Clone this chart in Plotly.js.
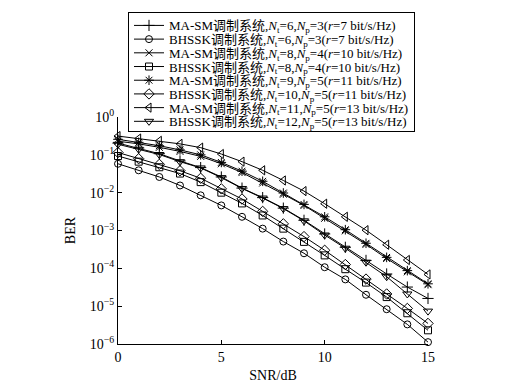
<!DOCTYPE html>
<html>
<head>
<meta charset="utf-8">
<script src="https://cdn.plot.ly/plotly-3.0.1.min.js"></script>
<style>
  html, body { margin: 0; padding: 0; background: #fff; }
  #plot { width: 506px; height: 386px; }
</style>
</head>
<body>
<div id="plot"></div>
<script>
// ---- data ----
var snr = [0,1,2,3,4,5,6,7,8,9,10,11,12,13,14,15];

var masm6  = [0.204,0.151,0.107,0.069,0.046,0.026,0.0132,0.0074,0.0039,0.00186,0.00081,0.00036,0.000162,7.1e-5,3.2e-5,1.6e-5];
var bhssk6 = [0.058,0.039,0.026,0.0155,0.0085,0.0046,0.0023,0.00112,0.00051,0.00025,0.000107,5.1e-5,2.0e-5,8.3e-6,3.3e-6,1.12e-6];
var masm8  = [0.229,0.195,0.158,0.123,0.091,0.058,0.034,0.018,0.0091,0.0046,0.0021,0.00098,0.00043,0.000182,8.1e-5,3.7e-5];
var bhssk8 = [0.093,0.066,0.047,0.032,0.019,0.010,0.0052,0.0025,0.00112,0.0005,0.00022,9.5e-5,4.2e-5,1.74e-5,6.5e-6,2.3e-6];
var masm9  = [0.257,0.214,0.174,0.135,0.100,0.063,0.037,0.020,0.0098,0.0049,0.0023,0.00105,0.00046,0.000195,8.7e-5,3.9e-5];
var bhssk10= [0.115,0.079,0.056,0.038,0.024,0.0126,0.0068,0.0032,0.0015,0.00069,0.0003,0.000126,5.2e-5,2.1e-5,8.7e-6,3.5e-6];
var masm11 = [0.313,0.269,0.234,0.195,0.155,0.105,0.066,0.039,0.021,0.011,0.0051,0.0023,0.00102,0.00042,0.000166,6.9e-5];
var bhssk12= [0.190,0.141,0.102,0.066,0.045,0.025,0.0129,0.0072,0.0038,0.0018,0.00076,0.00034,0.000145,6.0e-5,2.1e-5,7.4e-6];

var seriesNames = [
  "MA-SM调制系统,<i>N</i><sub>t</sub>=6,<i>N</i><sub>p</sub>=3(<i>r</i>=7 bit/s/Hz)",
  "BHSSK调制系统,<i>N</i><sub>t</sub>=6,<i>N</i><sub>p</sub>=3(<i>r</i>=7 bit/s/Hz)",
  "MA-SM调制系统,<i>N</i><sub>t</sub>=8,<i>N</i><sub>p</sub>=4(<i>r</i>=10 bit/s/Hz)",
  "BHSSK调制系统,<i>N</i><sub>t</sub>=8,<i>N</i><sub>p</sub>=4(<i>r</i>=10 bit/s/Hz)",
  "MA-SM调制系统,<i>N</i><sub>t</sub>=9,<i>N</i><sub>p</sub>=5(<i>r</i>=11 bit/s/Hz)",
  "BHSSK调制系统,<i>N</i><sub>t</sub>=10,<i>N</i><sub>p</sub>=5(<i>r</i>=11 bit/s/Hz)",
  "MA-SM调制系统,<i>N</i><sub>t</sub>=11,<i>N</i><sub>p</sub>=5(<i>r</i>=13 bit/s/Hz)",
  "BHSSK调制系统,<i>N</i><sub>t</sub>=12,<i>N</i><sub>p</sub>=5(<i>r</i>=13 bit/s/Hz)"
];
var seriesValues = [masm6, bhssk6, masm8, bhssk8, masm9, bhssk10, masm11, bhssk12];

var xTickVals = [0,5,10,15];
var xTickText = ["0","5","10","15"];
var yTickVals = [1e-6,1e-5,1e-4,1e-3,1e-2,1e-1,1];
var yTickText = ["10<sup>−6</sup>","10<sup>−5</sup>","10<sup>−4</sup>","10<sup>−3</sup>","10<sup>−2</sup>","10<sup>−1</sup>","10<sup>0</sup>"];

// ---- styles ----
var symbols = ["cross-thin-open","circle-open","x-thin-open","square-open","asterisk-open","diamond-open","triangle-left-open","triangle-down-open"];
var sizes   = [8,7,7,7,8,8,8,8];
var FONT = "Liberation Serif, 'Times New Roman', 'Noto Sans CJK SC', serif";

var data = seriesValues.map(function(v, i){
  return {
    x: snr, y: v, type: "scatter", mode: "lines+markers",
    name: seriesNames[i],
    line: {color: "#000", width: 1},
    marker: {symbol: symbols[i], size: sizes[i], color: "#000", line: {color: "#000", width: 1}},
    cliponaxis: false
  };
});

var layout = {
  width: 506, height: 386,
  margin: {l: 118, r: 78, t: 115, b: 42},
  paper_bgcolor: "#fff", plot_bgcolor: "#fff",
  font: {family: FONT, size: 14, color: "#000"},
  showlegend: true,
  legend: {
    x: 0.0323, y: 1.4629, xanchor: "left", yanchor: "top",
    bgcolor: "#fff", bordercolor: "#000", borderwidth: 1,
    font: {family: FONT, size: 13, color: "#000"},
    itemwidth: 30, tracegroupgap: 0
  },
  xaxis: {
    range: [0, 15], showgrid: false, zeroline: false,
    showline: true, linecolor: "#000", linewidth: 1, mirror: false,
    ticks: "inside", ticklen: 4, tickcolor: "#000",
    tickvals: xTickVals, ticktext: xTickText,
    tickfont: {family: FONT, size: 14},
    title: {text: "SNR/dB", font: {family: FONT, size: 14}, standoff: 6}
  },
  yaxis: {
    type: "log", range: [-6, 0], showgrid: false, zeroline: false,
    showline: true, linecolor: "#000", linewidth: 1, mirror: false,
    ticks: "inside", ticklen: 4, tickcolor: "#000",
    tickvals: yTickVals, ticktext: yTickText,
    tickfont: {family: FONT, size: 14},
    title: {text: "BER", font: {family: FONT, size: 14}, standoff: 10}
  }
};

Plotly.newPlot("plot", data, layout, {staticPlot: true, displayModeBar: false}).then(function(gd){
  // compact the legend row spacing to match the reference
  var leg = gd.querySelector(".legend");
  if (!leg) return;
  var items = leg.querySelectorAll(".traces");
  var first = 13.5, rowH = 13.7;
  items.forEach(function(el, i){
    var t = el.getAttribute("transform") || "";
    var m = /translate\(\s*([-\d.e]+)[\s,]+([-\d.e]+)\s*\)/.exec(t);
    var tx = m ? m[1] : 1;
    el.setAttribute("transform", "translate(" + tx + "," + (first + i*rowH) + ")");
  });
  var H = first + 7*rowH + 10;
  var bg = leg.querySelector("rect.bg");
  if (bg) bg.setAttribute("height", H);
});
</script>
</body>
</html>
